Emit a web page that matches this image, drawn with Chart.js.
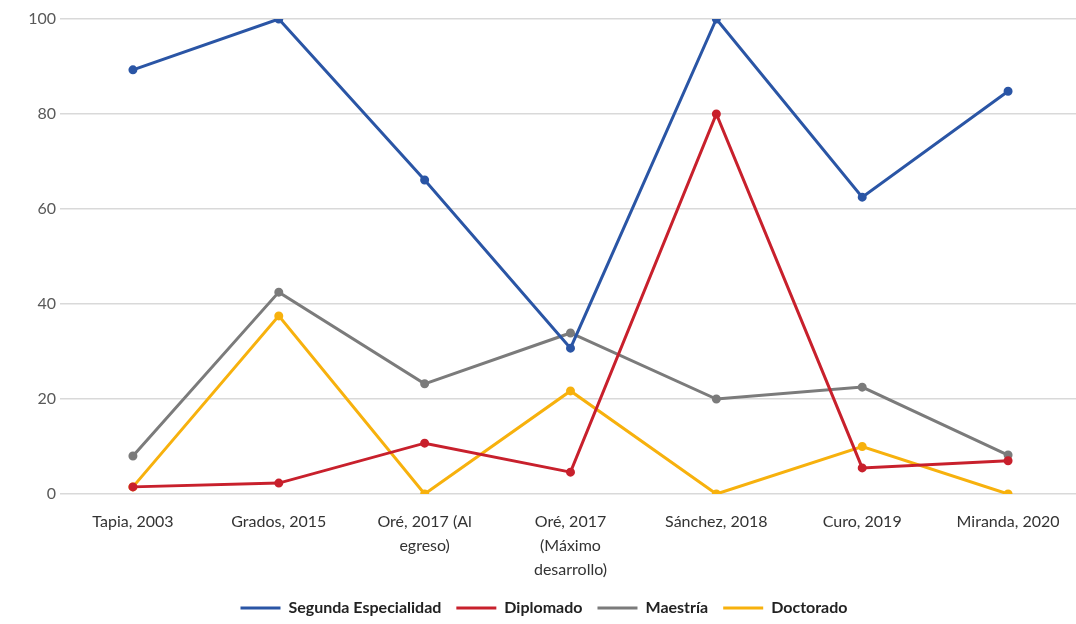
<!DOCTYPE html>
<html>
<head>
<meta charset="utf-8">
<script src="https://cdn.jsdelivr.net/npm/chart.js@4"></script>
<style>
  html, body { margin: 0; padding: 0; background: #fff; overflow: hidden; }
  #wrap { position: absolute; left: 0; top: 0; width: 1088px; height: 624px; }
</style>
</head>
<body>
<div id="wrap"><canvas id="chart" width="1088" height="624"></canvas></div>
<script>
// categorías (eje X)
const categories = [
  'Tapia, 2003',
  'Grados, 2015',
  ['Oré, 2017 (Al', 'egreso)'],
  ['Oré, 2017', '(Máximo', 'desarrollo)'],
  'Sánchez, 2018',
  'Curo, 2019',
  'Miranda, 2020'
];

// series
const segundaEspecialidad = [89.3, 100, 66.1, 30.7, 100, 62.5, 84.8];
const diplomado = [1.5, 2.3, 10.7, 4.6, 80, 5.5, 7];
const maestria = [8, 42.5, 23.2, 33.9, 20, 22.5, 8.2];
const doctorado = [1.5, 37.5, 0, 21.7, 0, 10, 0];

const yTicks = [0, 20, 40, 60, 80, 100];

const fontFamily = "Lato, 'Open Sans', sans-serif";

function serie(label, data, color) {
  return {
    label: label,
    data: data,
    borderColor: color,
    backgroundColor: color,
    borderWidth: 3,
    pointRadius: 3,
    pointHoverRadius: 4,
    pointStyle: 'circle',
    tension: 0
  };
}

new Chart(document.getElementById('chart'), {
  type: 'line',
  data: {
    labels: categories,
    datasets: [
      serie('Segunda Especialidad', segundaEspecialidad, '#2a55a5'),
      serie('Diplomado', diplomado, '#c8202c'),
      serie('Maestría', maestria, '#7b7b7b'),
      serie('Doctorado', doctorado, '#f7b10d')
    ]
  },
  options: {
    responsive: false,
    animation: false,
    layout: { padding: { top: 19, right: 0, left: 0, bottom: 0 } },
    plugins: {
      tooltip: { enabled: false },
      legend: {
        position: 'bottom',
        maxHeight: 39,
        labels: {
          color: '#222',
          font: { family: fontFamily, size: 16, weight: 'bold' },
          usePointStyle: true,
          pointStyle: 'line',
          pointStyleWidth: 40,
          padding: 15
        }
      }
    },
    scales: {
      x: {
        offset: true,
        grid: { display: false },
        border: { display: false },
        ticks: {
          color: '#333',
          font: { family: fontFamily, size: 16, lineHeight: 1.5 },
          maxRotation: 0,
          autoSkip: false,
          padding: 8
        },
        afterFit: function(scale) { scale.height = 91; }
      },
      y: {
        min: 0,
        max: 100,
        afterBuildTicks: function(scale) {
          scale.ticks = yTicks.map(v => ({ value: v }));
        },
        grid: { color: '#d9d9d9', lineWidth: 1.5, drawTicks: false },
        border: { display: false },
        ticks: {
          color: '#595959',
          font: { family: fontFamily, size: 16, lineHeight: 1 },
          padding: 4
        },
        afterFit: function(scale) { scale.width = 60; }
      }
    }
  }
});
</script>
</body>
</html>
